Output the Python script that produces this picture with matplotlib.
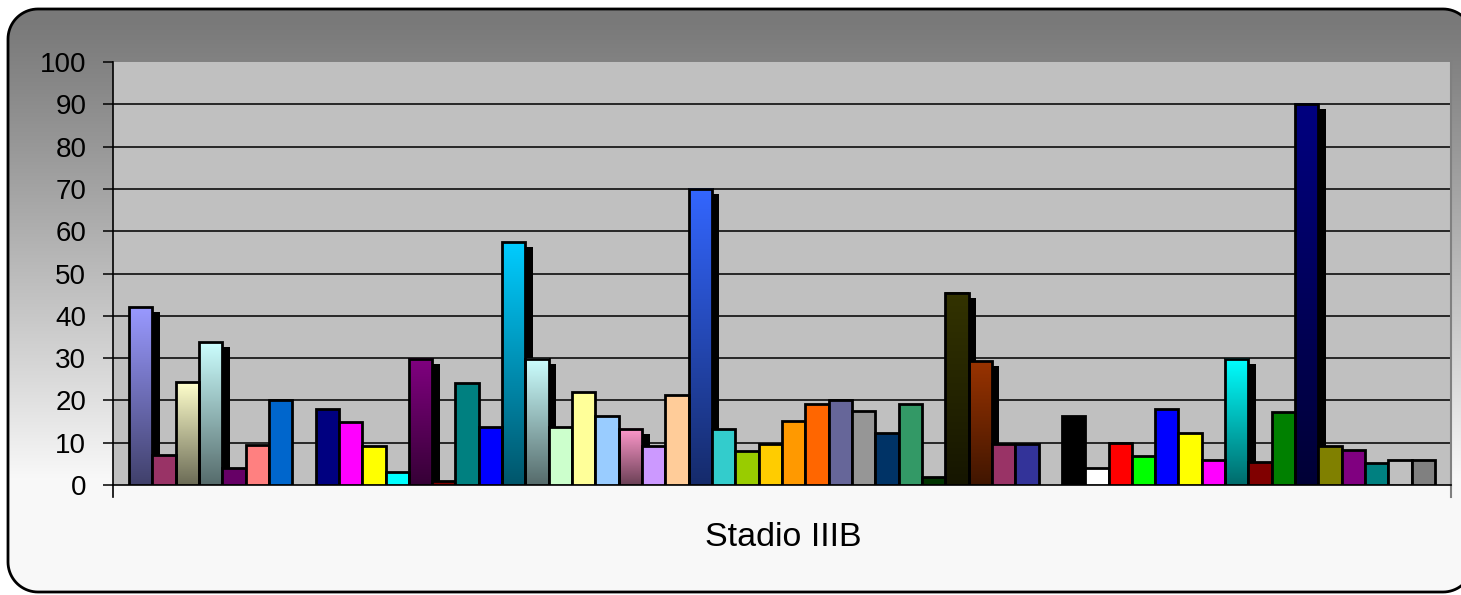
import numpy as np
import matplotlib.pyplot as plt
from matplotlib.patches import Rectangle, Polygon
from matplotlib.colors import to_rgb

# one category, 56 series (two empty slots act as gaps)
values = [42, 7, 24.3, 33.9, 4.1, 9.4, 20.2, np.nan,
          18, 15, 9.3, 3, 29.8, 1, 24.2, 13.8, 57.4, 29.8, 13.7, 21.9, 16.2, 13.3,
          9.2, 21.3, 70, 13.3, 8.1, 9.8, 15.1, 19.1, 20.2, 17.4, 12.2, 19.1, 2,
          45.4, 29.3, 9.8, 9.8, np.nan,
          16.4, 4.1, 9.9, 6.9, 17.9, 12.2, 5.9, 29.9, 5.4, 17.3, 90.1, 9.2, 8.2,
          5.3, 5.9, 5.9]
colors = ['#9999FF', '#993366', '#FFFFCC', '#CCFFFF', '#660066', '#FF8080', '#0066CC', None,
          '#000080', '#FF00FF', '#FFFF00', '#00FFFF', '#800080', '#800000', '#008080',
          '#0000FF', '#00CCFF', '#CCFFFF', '#CCFFCC', '#FFFF99', '#99CCFF', '#FF99CC',
          '#CC99FF', '#FFCC99', '#3366FF', '#33CCCC', '#99CC00', '#FFCC00', '#FF9900',
          '#FF6600', '#666699', '#969696', '#003366', '#339966', '#003300', '#333300',
          '#993300', '#993366', '#333399', None,
          '#000000', '#FFFFFF', '#FF0000', '#00FF00', '#0000FF', '#FFFF00', '#FF00FF',
          '#00FFFF', '#800000', '#008000', '#000080', '#808000', '#800080', '#008080',
          '#C0C0C0', '#808080']
# series drawn with a vertical gradient and a drop shadow
gradient = {0, 2, 3, 12, 16, 17, 21, 24, 35, 36, 47, 50}
category = 'Stadio IIIB'
yticks = list(range(0, 101, 10))

W, H = 1461, 595
fig = plt.figure(figsize=(W / 100, H / 100), dpi=100)


def rounded_box(x0, y0, x1, y1, r):
    # polygon of a rounded rectangle, arcs sampled as straight segments
    pts = []
    corners = [(x1 - r, y1 - r, 0), (x0 + r, y1 - r, 90),
               (x0 + r, y0 + r, 180), (x1 - r, y0 + r, 270)]
    for cx, cy, a0 in corners:
        a = np.radians(np.linspace(a0, a0 + 90, 20))
        pts += list(zip(cx + r * np.cos(a), cy + r * np.sin(a)))
    return np.array(pts)


# background rounded box, grey at the top fading to near white
bg = fig.add_axes([0, 0, 1, 1], zorder=-1)
bg.set_xlim(0, W)
bg.set_ylim(0, H)
bg.axis('off')
rows = np.arange(9, 593)
f = np.clip((rows - 20) / 460, 0, 1) ** 1.1
g = 0.475 + (0.975 - 0.475) * f
img = np.repeat(g[:, None], 3, axis=1)[:, None, :]
box = Polygon(rounded_box(8, H - 592, 1473, H - 9, 30), closed=True,
              facecolor='none', edgecolor='black', lw=2, zorder=3)
im = bg.imshow(img, extent=[0, W, H - 592, H - 9], origin='upper', aspect='auto',
               interpolation='bilinear')
bg.add_patch(box)
im.set_clip_path(box)

ax = fig.add_axes([113 / W, 1 - 485 / H, (1451 - 113) / W, (485 - 62) / H])
ax.set_facecolor('#C0C0C0')
n = len(values)
xmin, xmax = -0.686, n + 0.686

for y in yticks[1:-1]:
    ax.axhline(y, color='#1a1a1a', lw=1.3, zorder=1)

dx, dy = 0.32, 1.2
for i, (v, c) in enumerate(zip(values, colors)):
    if np.isnan(v):
        continue
    if i in gradient:
        ax.add_patch(Rectangle((i + dx, 0), 1, v - dy, facecolor='black',
                               edgecolor='none', zorder=2))
        top = np.array(to_rgb(c))
        s = np.linspace(0, 1, 100)[:, None]
        col = top * (1 - s) + top * 0.42 * s
        ax.imshow(col[:, None, :], extent=[i, i + 1, 0, v], aspect='auto',
                  interpolation='bilinear', zorder=3)
        ax.add_patch(Rectangle((i, 0), 1, v, facecolor='none', edgecolor='black',
                               lw=2, zorder=4))
    else:
        ax.add_patch(Rectangle((i, 0), 1, v, facecolor=c, edgecolor='black',
                               lw=2, zorder=4))

ax.set_xlim(xmin, xmax)
ax.set_ylim(0, 100)
ax.set_yticks(yticks)
ax.set_xticks([])
ax.tick_params(axis='y', direction='out', length=7.2, width=1.1, pad=12,
               labelsize=20, colors='black')
for lab in ax.get_yticklabels():
    lab.set_fontfamily('Liberation Sans')
ax.spines['top'].set_visible(False)
ax.spines['right'].set_color('#808080')
ax.spines['right'].set_linewidth(1.5)
ax.spines['left'].set_linewidth(1.2)
ax.spines['bottom'].set_linewidth(1.2)
ax.plot([xmin, xmin], [0, -2.8], color='black', lw=1.2, clip_on=False)
ax.plot([xmax, xmax], [0, -2.8], color='#808080', lw=1.5, clip_on=False)

fig.text(783 / W, 1 - 538 / H, category, ha='center', va='center',
         fontsize=24.5, family='Liberation Sans')

fig.savefig('out.png', dpi=100)
